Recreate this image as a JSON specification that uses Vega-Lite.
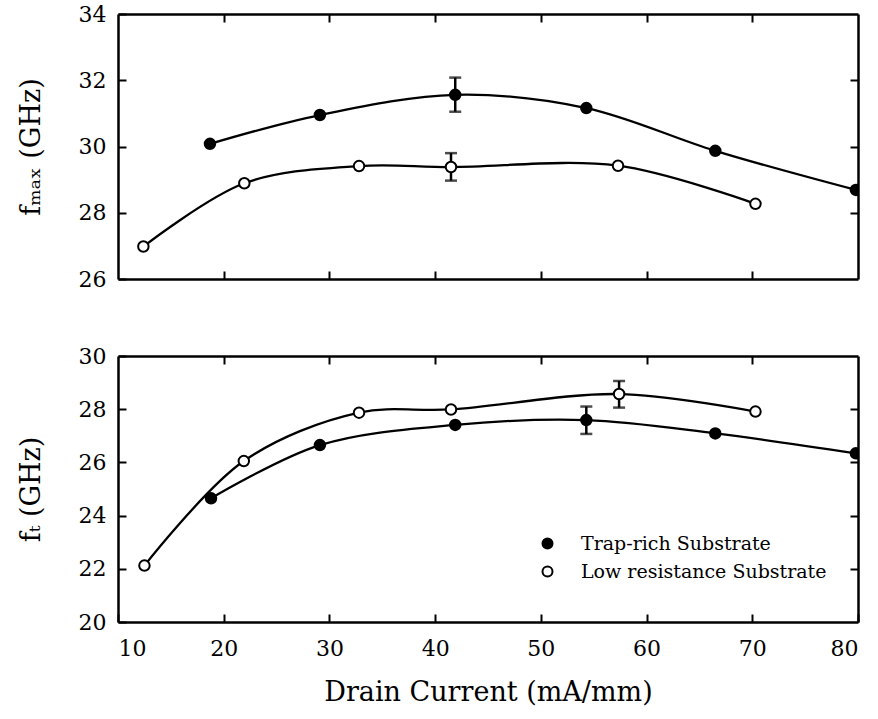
{
  "$schema": "https://vega.github.io/schema/vega-lite/v6.json",
  "padding": {"left": 17, "top": 3, "right": 5, "bottom": 5},
  "background": "white",
  "datasets": {
    "pts": [
      {"panel": "fmax", "substrate": "Trap-rich Substrate", "current": 18.7, "freq": 30.08},
      {"panel": "fmax", "substrate": "Trap-rich Substrate", "current": 29.1, "freq": 30.95},
      {"panel": "fmax", "substrate": "Trap-rich Substrate", "current": 41.9, "freq": 31.56, "lo": 31.05, "hi": 32.08},
      {"panel": "fmax", "substrate": "Trap-rich Substrate", "current": 54.3, "freq": 31.16},
      {"panel": "fmax", "substrate": "Trap-rich Substrate", "current": 66.5, "freq": 29.87},
      {"panel": "fmax", "substrate": "Trap-rich Substrate", "current": 79.8, "freq": 28.69},
      {"panel": "fmax", "substrate": "Low resistance Substrate", "current": 12.4, "freq": 26.98},
      {"panel": "fmax", "substrate": "Low resistance Substrate", "current": 21.95, "freq": 28.89},
      {"panel": "fmax", "substrate": "Low resistance Substrate", "current": 32.8, "freq": 29.41},
      {"panel": "fmax", "substrate": "Low resistance Substrate", "current": 41.5, "freq": 29.38, "lo": 28.97, "hi": 29.8},
      {"panel": "fmax", "substrate": "Low resistance Substrate", "current": 57.3, "freq": 29.42},
      {"panel": "fmax", "substrate": "Low resistance Substrate", "current": 70.3, "freq": 28.27},
      {"panel": "fT", "substrate": "Trap-rich Substrate", "current": 18.8, "freq": 24.65},
      {"panel": "fT", "substrate": "Trap-rich Substrate", "current": 29.1, "freq": 26.65},
      {"panel": "fT", "substrate": "Trap-rich Substrate", "current": 41.9, "freq": 27.41},
      {"panel": "fT", "substrate": "Trap-rich Substrate", "current": 54.3, "freq": 27.59, "lo": 27.07, "hi": 28.1},
      {"panel": "fT", "substrate": "Trap-rich Substrate", "current": 66.5, "freq": 27.09},
      {"panel": "fT", "substrate": "Trap-rich Substrate", "current": 79.8, "freq": 26.34},
      {"panel": "fT", "substrate": "Low resistance Substrate", "current": 12.5, "freq": 22.12},
      {"panel": "fT", "substrate": "Low resistance Substrate", "current": 21.9, "freq": 26.05},
      {"panel": "fT", "substrate": "Low resistance Substrate", "current": 32.8, "freq": 27.87},
      {"panel": "fT", "substrate": "Low resistance Substrate", "current": 41.5, "freq": 27.99},
      {"panel": "fT", "substrate": "Low resistance Substrate", "current": 57.4, "freq": 28.57, "lo": 28.06, "hi": 29.06},
      {"panel": "fT", "substrate": "Low resistance Substrate", "current": 70.3, "freq": 27.91}
    ]
  },
  "config": {
    "font": "DejaVu Serif",
    "view": {"stroke": null},
    "axis": {
      "grid": false,
      "domainColor": "black",
      "domainWidth": 2.5,
      "tickColor": "black",
      "tickWidth": 2,
      "tickSize": -8,
      "labelFont": "DejaVu Serif",
      "labelFontSize": 22,
      "labelColor": "black",
      "titleFont": "DejaVu Serif",
      "titleFontSize": 27,
      "titleFontWeight": "normal",
      "titleColor": "black"
    },
    "axisLeft": {"labelPadding": 20, "titlePadding": 33},
    "axisBottom": {"labelPadding": 24, "titlePadding": 20}
  },
  "spacing": 77,
  "bounds": "flush",
  "resolve": {"scale": {"fill": "independent"}, "legend": {"fill": "independent"}},
  "vconcat": [
    {
      "width": 740,
      "height": 265,
      "data": {"name": "pts"},
      "transform": [{"filter": "datum.panel === 'fmax'"}],
      "layer": [
        {
          "mark": {"type": "line", "interpolate": "catmull-rom", "color": "black", "strokeWidth": 2.3, "clip": true},
          "encoding": {
            "x": {"field": "current", "type": "quantitative", "scale": {"domain": [10, 80], "nice": false}, "axis": {"orient": "bottom", "labels": false, "title": null, "values": [20, 30, 40, 50, 60, 70]}},
            "y": {"field": "freq", "type": "quantitative", "scale": {"domain": [26, 34], "nice": false, "zero": false}, "axis": {"orient": "left", "title": "fₘₐₓ (GHz)", "values": [26, 28, 30, 32, 34]}},
            "detail": {"field": "substrate"}
          }
        },
        {
          "transform": [{"filter": "datum.lo != null"}],
          "mark": {"type": "errorbar", "color": "black", "ticks": {"size": 12, "thickness": 2.5, "color": "black"}, "rule": {"strokeWidth": 2.5, "color": "black"}},
          "encoding": {
            "x": {"field": "current", "type": "quantitative", "axis": null},
            "y": {"field": "lo", "type": "quantitative", "axis": null},
            "y2": {"field": "hi"}
          }
        },
        {
          "mark": {"type": "point", "shape": "circle", "filled": true, "size": 110, "stroke": "black", "strokeWidth": 2, "opacity": 1, "clip": true},
          "encoding": {
            "x": {"field": "current", "type": "quantitative", "axis": {"orient": "top", "labels": false, "title": null, "values": [20, 30, 40, 50, 60, 70]}},
            "y": {"field": "freq", "type": "quantitative", "axis": {"orient": "right", "labels": false, "title": null, "values": [28, 30, 32]}},
            "fill": {"field": "substrate", "type": "nominal", "scale": {"domain": ["Trap-rich Substrate", "Low resistance Substrate"], "range": ["black", "white"]}, "legend": null}
          }
        }
      ],
      "resolve": {"axis": {"x": "independent", "y": "independent"}}
    },
    {
      "width": 740,
      "height": 266,
      "data": {"name": "pts"},
      "transform": [{"filter": "datum.panel === 'fT'"}],
      "layer": [
        {
          "mark": {"type": "line", "interpolate": "catmull-rom", "color": "black", "strokeWidth": 2.3, "clip": true},
          "encoding": {
            "x": {"field": "current", "type": "quantitative", "scale": {"domain": [10, 80], "nice": false}, "axis": {"orient": "bottom", "title": "Drain Current (mA/mm)", "values": [10, 20, 30, 40, 50, 60, 70, 80]}},
            "y": {"field": "freq", "type": "quantitative", "scale": {"domain": [20, 30], "nice": false, "zero": false}, "axis": {"orient": "left", "title": "fₜ (GHz)", "values": [20, 22, 24, 26, 28, 30]}},
            "detail": {"field": "substrate"}
          }
        },
        {
          "transform": [{"filter": "datum.lo != null"}],
          "mark": {"type": "errorbar", "color": "black", "ticks": {"size": 12, "thickness": 2.5, "color": "black"}, "rule": {"strokeWidth": 2.5, "color": "black"}},
          "encoding": {
            "x": {"field": "current", "type": "quantitative", "axis": null},
            "y": {"field": "lo", "type": "quantitative", "axis": null},
            "y2": {"field": "hi"}
          }
        },
        {
          "mark": {"type": "point", "shape": "circle", "filled": true, "size": 110, "stroke": "black", "strokeWidth": 2, "opacity": 1, "clip": true},
          "encoding": {
            "x": {"field": "current", "type": "quantitative", "axis": {"orient": "top", "labels": false, "title": null, "values": [20, 30, 40, 50, 60, 70]}},
            "y": {"field": "freq", "type": "quantitative", "axis": {"orient": "right", "labels": false, "title": null, "values": [22, 24, 26, 28]}},
            "fill": {
              "field": "substrate", "type": "nominal",
              "scale": {"domain": ["Trap-rich Substrate", "Low resistance Substrate"], "range": ["black", "white"]},
              "legend": {"orient": "none", "legendX": 420, "legendY": 178, "title": null, "padding": 0, "labelFont": "DejaVu Serif", "labelFontSize": 19, "labelColor": "black", "labelLimit": 0, "symbolType": "circle", "symbolSize": 100, "symbolStrokeColor": "black", "symbolStrokeWidth": 2, "labelOffset": 24, "rowPadding": 8}
            }
          }
        }
      ],
      "resolve": {"axis": {"x": "independent", "y": "independent"}}
    }
  ]
}
